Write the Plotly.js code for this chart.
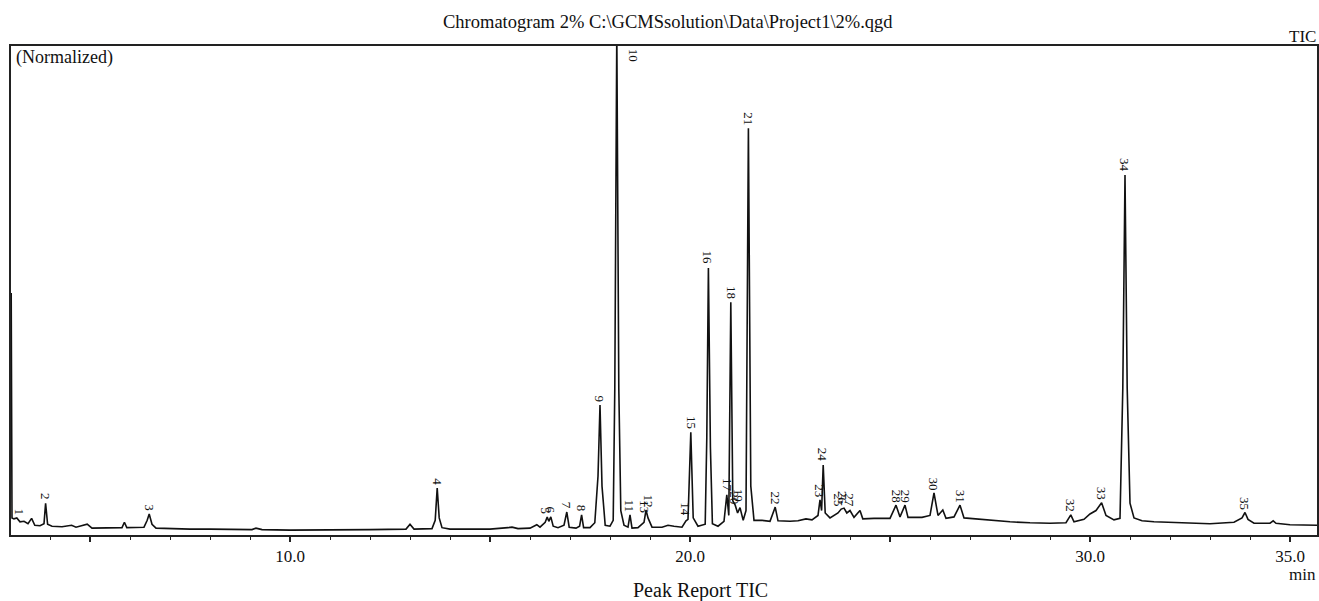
<!DOCTYPE html>
<html>
<head>
<meta charset="utf-8">
<script src="https://cdn.plot.ly/plotly-3.0.1.min.js"></script>
<style>
  html, body { margin: 0; padding: 0; background: #ffffff; }
  #chart { width: 1319px; height: 601px; }
</style>
</head>
<body>
<div id="chart"></div>
<script>
// Retention time (min) of the points of the TIC trace
var traceTime = [
  3.03, 3.05, 3.10, 3.17, 3.25, 3.35, 3.45, 3.54, 3.62, 3.75,
  3.85, 3.89, 3.94, 4.05, 4.30, 4.54, 4.65, 4.93, 5.05, 5.40,
  5.80, 5.86, 5.92, 6.35, 6.43, 6.48, 6.55, 6.65, 7.00, 7.50,
  8.00, 8.50, 9.05, 9.15, 9.30, 10.0, 11.0, 12.0, 12.9, 13.0,
  13.1, 13.55, 13.63, 13.68, 13.73, 13.80, 14.0, 14.5, 15.0, 15.45,
  15.55, 15.70, 16.0, 16.17, 16.25, 16.38, 16.43, 16.47, 16.52, 16.58,
  16.70, 16.85, 16.92, 16.98, 17.15, 17.24, 17.29, 17.34, 17.50, 17.62,
  17.70, 17.75, 17.80, 17.88, 18.00, 18.08, 18.12, 18.17, 18.22, 18.27,
  18.35, 18.45, 18.50, 18.55, 18.70, 18.85, 18.90, 18.95, 19.05, 19.30,
  19.45, 19.60, 19.80, 19.90, 19.95, 20.02, 20.08, 20.20, 20.38, 20.42,
  20.46, 20.51, 20.56, 20.70, 20.85, 20.92, 20.97, 21.02, 21.07, 21.13,
  21.19, 21.25, 21.33, 21.40, 21.46, 21.52, 21.60, 21.80, 22.00, 22.13,
  22.20, 22.50, 22.70, 22.90, 23.05, 23.20, 23.25, 23.29, 23.33, 23.38,
  23.50, 23.70, 23.78, 23.85, 23.92, 24.00, 24.10, 24.25, 24.32, 24.60,
  25.00, 25.15, 25.25, 25.375, 25.45, 25.80, 26.00, 26.10, 26.20, 26.32,
  26.40, 26.60, 26.75, 26.85, 27.00, 27.50, 28.00, 28.50, 29.00, 29.40,
  29.52, 29.60, 29.85, 30.00, 30.15, 30.29, 30.40, 30.60, 30.75, 30.82,
  30.875, 30.93, 31.00, 31.10, 31.30, 31.60, 32.00, 32.50, 33.00, 33.60,
  33.80, 33.875, 33.95, 34.10, 34.50, 34.58, 34.65, 35.00, 35.675
];
// Normalized TIC intensity (% of full scale) at those times
var traceIntensity = [
  49.5, 3.5, 3.3, 3.5, 2.7, 2.8, 2.3, 3.4, 2.0, 1.9,
  2.3, 6.5, 2.2, 1.8, 1.7, 2.0, 1.6, 2.2, 1.4, 1.4,
  1.5, 2.6, 1.5, 1.6, 3.0, 4.3, 2.2, 1.4, 1.3, 1.2,
  1.2, 1.1, 1.1, 1.4, 1.1, 1.0, 1.0, 1.1, 1.2, 2.2,
  1.2, 1.3, 3.0, 9.6, 3.5, 1.5, 1.2, 1.2, 1.2, 1.5,
  1.6, 1.3, 1.4, 2.1, 1.6, 2.6, 3.7, 2.8, 3.7, 1.8,
  1.5, 2.0, 4.7, 1.6, 1.4, 1.8, 4.1, 1.5, 1.5, 2.5,
  12.0, 26.6, 10.0, 2.0, 1.8, 3.0, 30.0, 103.0, 30.0, 5.0,
  2.0, 1.6, 4.1, 1.4, 1.5, 2.6, 5.1, 3.5, 1.6, 1.6,
  2.0, 1.8, 1.6, 2.9, 3.2, 21.0, 3.5, 1.8, 2.2, 20.0,
  54.6, 18.0, 2.3, 1.8, 2.8, 8.2, 4.0, 47.6, 7.0, 6.1,
  4.5, 5.6, 3.0, 5.0, 83.2, 10.0, 3.0, 3.0, 2.8, 5.7,
  2.9, 2.8, 2.9, 3.3, 3.1, 4.0, 7.2, 5.0, 14.3, 4.5,
  3.5, 4.5, 5.3, 5.5, 4.5, 5.0, 3.6, 5.0, 3.3, 3.4,
  3.4, 6.1, 3.7, 6.1, 3.6, 3.6, 4.0, 8.6, 4.0, 5.1,
  3.4, 3.7, 6.1, 3.5, 3.4, 3.0, 2.7, 2.5, 2.4, 2.5,
  4.1, 2.7, 3.2, 4.3, 5.0, 6.6, 4.0, 3.1, 3.4, 30.0,
  73.6, 30.0, 6.5, 3.5, 2.9, 2.7, 2.6, 2.4, 2.3, 2.6,
  3.5, 4.6, 3.2, 2.4, 2.4, 2.9, 2.4, 2.1, 2.0
];
// Peak report labels: peak number, retention time, apex intensity
var peakNumbers = ['1','2','3','4','5','6','7','8','9','10','11','12','13','14','15','16','17','18',
  '19','20','21','22','23','24','25','26','27','28','29','30','31','32','33','34','35'];
var peakTimes = [3.25, 3.89, 6.48, 13.68, 16.40, 16.52, 16.92, 17.29, 17.75, 18.17, 18.50, 18.95, 18.85,
  19.90, 20.02, 20.46, 20.92, 21.02, 21.22, 21.12, 21.46, 22.13, 23.25, 23.33, 23.70, 23.83, 23.98,
  25.15, 25.375, 26.10, 26.75, 29.52, 30.29, 30.875, 33.875];
var peakApex = [3.5, 6.5, 4.3, 9.6, 3.7, 3.7, 4.7, 4.1, 26.6, 100, 4.1, 5.1, 4.0,
  3.2, 21.0, 54.6, 8.2, 47.6, 6.1, 5.6, 83.2, 5.7, 7.2, 14.3, 5.3, 5.5, 5.0,
  6.1, 6.1, 8.6, 6.1, 4.1, 6.6, 73.6, 4.6];
var majorTicks = [5, 10, 15, 20, 25, 30, 35];
var majorTickText = ['', '10.0', '', '20.0', '', '30.0', '35.0'];

var serif = 'Liberation Serif, Times New Roman, serif';

var annotations = peakNumbers.map(function (n, i) {
  var top = peakApex[i] >= 100;
  return {
    x: peakTimes[i], y: top ? 100 : peakApex[i],
    xref: 'x', yref: 'y',
    text: n, showarrow: false, textangle: 90,
    xanchor: 'center', yanchor: top ? 'top' : 'bottom',
    xshift: top ? 17 : 0, yshift: top ? -1 : 1,
    font: { family: serif, size: 13, color: '#111' }
  };
});

annotations.push(
  { text: 'Chromatogram 2% C:\\GCMSsolution\\Data\\Project1\\2%.qgd', xref: 'paper', yref: 'paper',
    x: 0.503, y: 1.049, xanchor: 'center', yanchor: 'middle', showarrow: false,
    font: { family: serif, size: 18.5, color: '#111' } },
  { text: 'TIC', xref: 'paper', yref: 'paper', x: 1.001, y: 1.02, xanchor: 'right', yanchor: 'middle',
    showarrow: false, font: { family: serif, size: 17, color: '#111' } },
  { text: '(Normalized)', xref: 'paper', yref: 'paper', x: 0.002, y: 0.977, xanchor: 'left', yanchor: 'middle',
    showarrow: false, font: { family: serif, size: 18, color: '#111' } },
  { text: 'min', xref: 'paper', yref: 'paper', x: 1.001, y: -0.081, xanchor: 'right', yanchor: 'middle',
    showarrow: false, font: { family: serif, size: 17, color: '#111' } },
  { text: 'Peak Report TIC', xref: 'paper', yref: 'paper', x: 0.528, y: -0.113, xanchor: 'center', yanchor: 'middle',
    showarrow: false, font: { family: serif, size: 20, color: '#111' } }
);

var data = [{
  x: traceTime, y: traceIntensity, type: 'scatter', mode: 'lines',
  line: { color: '#111', width: 1.6 }, hoverinfo: 'x+y'
}];

var layout = {
  width: 1319, height: 601,
  margin: { l: 11, r: 2, t: 46, b: 66, pad: 0 },
  paper_bgcolor: '#ffffff', plot_bgcolor: '#ffffff',
  showlegend: false,
  xaxis: {
    range: [3.025, 35.675], tickmode: 'array', tickvals: majorTicks, ticktext: majorTickText,
    ticks: 'outside', ticklen: 5, tickwidth: 1.4, tickcolor: '#222',
    minor: { dtick: 1, tick0: 0, ticks: 'outside', ticklen: 3, tickwidth: 1, tickcolor: '#222', showgrid: false },
    showgrid: false, zeroline: false, showline: true, linecolor: '#222', linewidth: 1.6, mirror: true,
    tickfont: { family: serif, size: 17, color: '#111' }
  },
  yaxis: {
    range: [0, 100], showticklabels: false, ticks: '', showgrid: false, zeroline: false,
    showline: true, linecolor: '#222', linewidth: 1.6, mirror: true
  },
  annotations: annotations
};

Plotly.newPlot('chart', data, layout, { displayModeBar: false, staticPlot: true });
</script>
</body>
</html>
